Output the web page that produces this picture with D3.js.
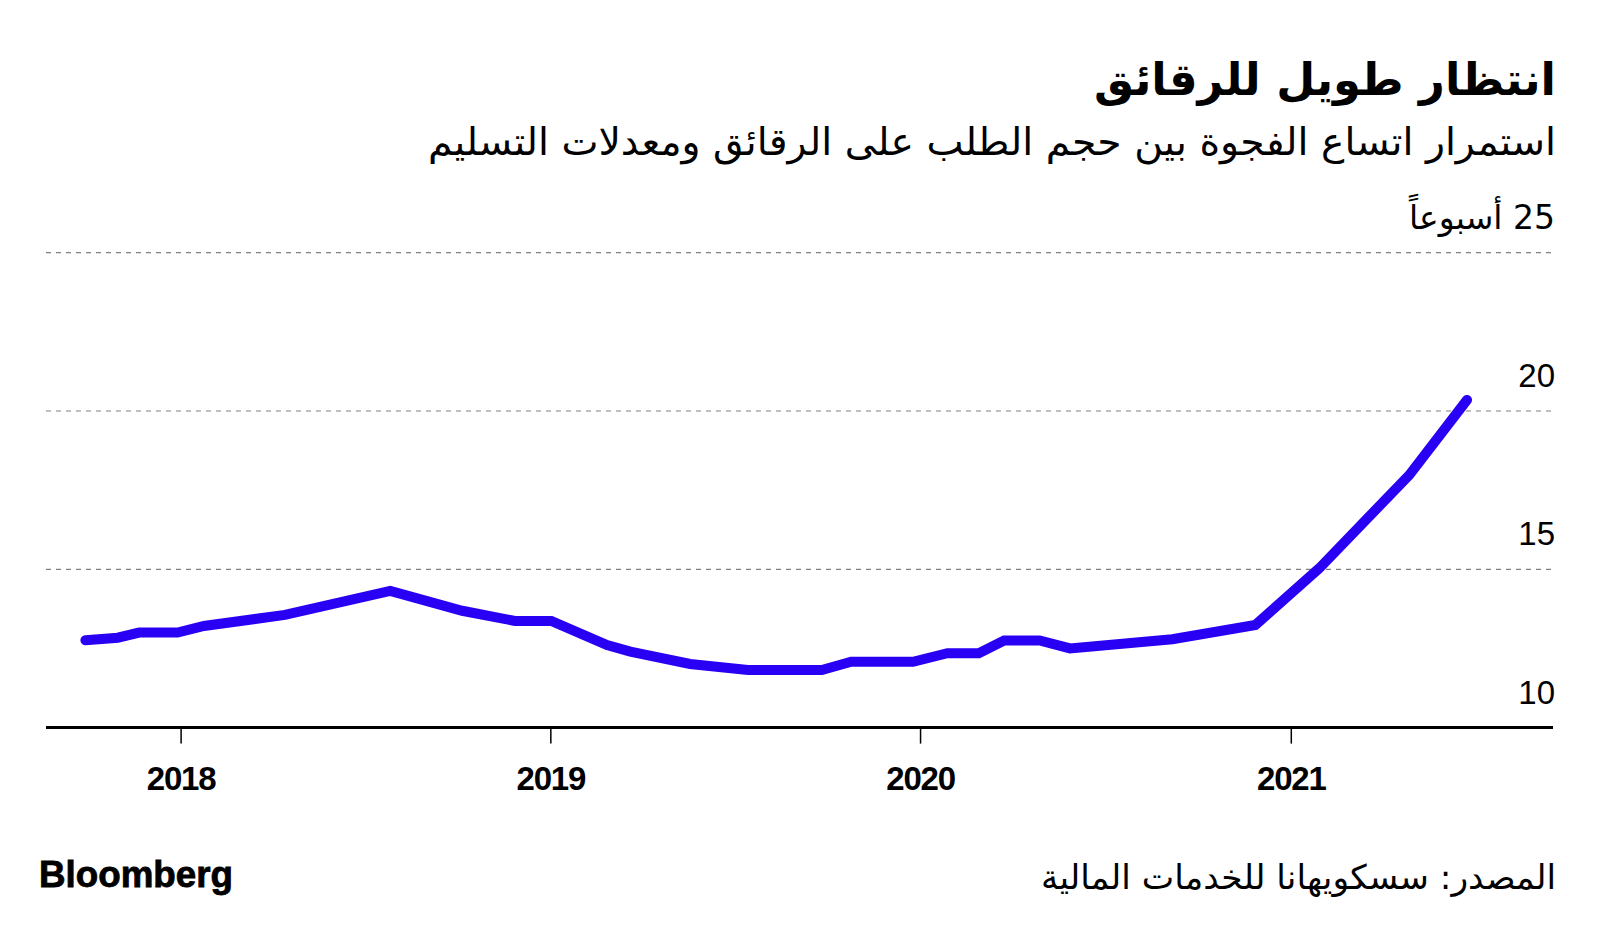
<!DOCTYPE html>
<html>
<head>
<meta charset="utf-8">
<script src="https://cdn.jsdelivr.net/npm/d3@7"></script>
<style>
  html, body { margin: 0; padding: 0; background: #ffffff; }
  svg { display: block; }
</style>
</head>
<body>
<svg id="chart" width="1600" height="927"></svg>
<script>
// ---- Data ----
const dates = [
  "2017-09-29", "2017-10-31", "2017-11-21", "2017-12-29", "2018-01-24",
  "2018-04-14", "2018-07-27", "2018-10-06", "2018-11-27", "2019-01-02",
  "2019-02-26", "2019-03-21", "2019-05-19", "2019-07-15", "2019-09-26",
  "2019-10-25", "2019-12-25", "2020-01-28", "2020-02-28", "2020-03-24",
  "2020-04-28", "2020-05-28", "2020-09-06", "2020-11-27", "2021-01-29",
  "2021-04-28", "2021-06-24"
];
const leadWeeks = [
  12.76, 12.84, 13.00, 13.00, 13.21,
  13.56, 14.32, 13.69, 13.37, 13.37,
  12.61, 12.40, 12.01, 11.82, 11.82,
  12.08, 12.08, 12.35, 12.35, 12.75,
  12.75, 12.50, 12.79, 13.24, 15.03,
  17.98, 20.35
];
const yTickValues = [10, 15, 20, 25];
const yTickLabels = ["10", "15", "20", "\u200F25 أسبوعاً"];
const xTickYears = ["2018", "2019", "2020", "2021"];

const titleText = "انتظار طويل للرقائق";
const subtitleText = "استمرار اتساع الفجوة بين حجم الطلب على الرقائق ومعدلات التسليم";
const sourceText = "المصدر: سسكويهانا للخدمات المالية";
const brandText = "Bloomberg";

// ---- Setup ----
const svg = d3.select("#chart");
const parse = d3.timeParse("%Y-%m-%d");
const data = dates.map((d, i) => ({ date: parse(d), value: leadWeeks[i] }));

const plotLeft = 46, plotRight = 1553;
const x = d3.scaleTime()
  .domain([parse("2018-01-01"), parse("2021-01-01")])
  .range([180.6, 1290.8]);
const y = d3.scaleLinear().domain([10, 25]).range([727.6, 252.7]);

const arabicFont = "'DejaVu Sans', 'Noto Sans', sans-serif";
const latinFont = "'Liberation Sans', Arial, sans-serif";

// fit a text's font-size so that its natural width matches a target width
function fitWidth(sel, baseSize, targetWidth, maxSize) {
  sel.attr("font-size", baseSize);
  const w = sel.node().getComputedTextLength();
  let s = baseSize * targetWidth / w;
  if (maxSize) s = Math.min(s, maxSize);
  sel.attr("font-size", s);
  return sel;
}

// ---- Title / subtitle ----
const title = svg.append("text")
  .attr("x", 1556).attr("y", 95)
  .attr("text-anchor", "end")
  .attr("font-family", arabicFont)
  .attr("font-weight", "bold")
  .attr("fill", "#000")
  .text(titleText);
fitWidth(title, 50, 462, 54);

svg.append("text")
  .attr("x", 1556).attr("y", 155)
  .attr("text-anchor", "end")
  .attr("font-family", arabicFont)
  .attr("font-size", 38)
  .attr("textLength", 1128)
  .attr("lengthAdjust", "spacingAndGlyphs")
  .attr("fill", "#000")
  .text(subtitleText);

// ---- Gridlines ----
svg.append("g")
  .selectAll("line")
  .data(yTickValues.filter(v => v !== 10))
  .join("line")
  .attr("x1", plotLeft).attr("x2", plotRight)
  .attr("y1", d => y(d)).attr("y2", d => y(d))
  .attr("stroke", "#808080")
  .attr("stroke-width", 1.2)
  .attr("stroke-dasharray", "5,5");

// ---- Y labels ----
svg.append("g")
  .selectAll("text")
  .data(yTickValues)
  .join("text")
  .attr("x", 1555)
  .attr("y", d => y(d) - 24)
  .attr("text-anchor", "end")
  .attr("font-family", (d, i) => i === 3 ? arabicFont : latinFont)
  .attr("font-size", 33)
  .attr("fill", "#000")
  .text((d, i) => yTickLabels[i]);

// ---- X axis ----
const xAxis = d3.axisBottom(x)
  .tickValues(xTickYears.map(yr => parse(yr + "-01-01")))
  .tickFormat(d3.timeFormat("%Y"))
  .tickSize(16)
  .tickSizeOuter(0);

const gx = svg.append("g")
  .attr("transform", `translate(0,${y(10)})`)
  .call(xAxis);
gx.select(".domain").remove();
gx.selectAll(".tick line").attr("stroke", "#000").attr("stroke-width", 1.5);
gx.selectAll(".tick text")
  .attr("y", 62).attr("dy", 0)
  .attr("font-family", latinFont)
  .attr("font-weight", "bold")
  .attr("font-size", 33)
  .attr("letter-spacing", -1.2)
  .attr("fill", "#000");

svg.append("line")
  .attr("x1", plotLeft).attr("x2", plotRight)
  .attr("y1", y(10)).attr("y2", y(10))
  .attr("stroke", "#000").attr("stroke-width", 3);

// ---- Line ----
const line = d3.line().x(d => x(d.date)).y(d => y(d.value));
svg.append("path")
  .datum(data)
  .attr("d", line)
  .attr("fill", "none")
  .attr("stroke", "#2a00f5")
  .attr("stroke-width", 10)
  .attr("stroke-linecap", "round")
  .attr("stroke-linejoin", "miter");

// ---- Footer ----
svg.append("text")
  .attr("x", 39).attr("y", 887)
  .attr("font-family", latinFont)
  .attr("font-weight", "bold")
  .attr("font-size", 36)
  .attr("textLength", 194)
  .attr("lengthAdjust", "spacingAndGlyphs")
  .attr("fill", "#000")
  .attr("stroke", "#000")
  .attr("stroke-width", 0.8)
  .text(brandText);

svg.append("text")
  .attr("x", 1556).attr("y", 889)
  .attr("text-anchor", "end")
  .attr("font-family", arabicFont)
  .attr("font-size", 34)
  .attr("textLength", 515)
  .attr("lengthAdjust", "spacingAndGlyphs")
  .attr("fill", "#000")
  .text(sourceText);
</script>
</body>
</html>
